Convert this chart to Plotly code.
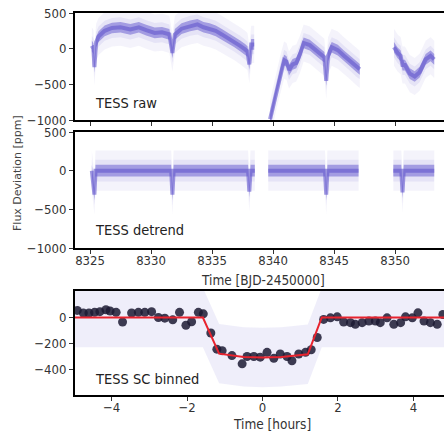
import plotly.graph_objects as go

# --- data ---
# TESS raw light curve (trend of the dense point cloud, ppm); None = data gap
raw_time = [8325.15, 8325.28, 8325.36, 8325.5, 8325.7, 8326.2, 8326.8, 8327.5, 8328.3, 8329.0,
            8329.6, 8330.3, 8330.9, 8331.5, 8331.75, 8331.95, 8332.5, 8333.2, 8333.8, 8334.3,
            8334.8, 8335.3, 8335.8, 8336.3, 8336.8, 8337.3, 8337.7, 8337.9, 8338.05, 8338.2, 8338.45,
            None,
            8339.75, 8340.0, 8340.3, 8340.6, 8340.9, 8341.1, 8341.3, 8341.6, 8341.9, 8342.2,
            8342.5, 8343.0, 8343.5, 8343.9, 8344.2, 8344.35, 8344.5, 8344.8, 8345.3, 8345.8,
            8346.3, 8346.8, 8347.1,
            None,
            8349.9, 8350.2, 8350.45, 8350.6, 8350.8, 8351.2, 8351.6, 8352.0, 8352.2, 8352.5,
            8352.9, 8353.2]
raw_flux = [40, 0, -260, 90, 170, 250, 290, 300, 270, 300,
            260, 220, 230, 200, -60, 200, 280, 320, 340, 300,
            280, 250, 200, 150, 100, 40, -10, -40, -220, 60, 60,
            None,
            -990, -800, -560, -350, -160, -180, -300, -220, -200, -80,
            80, 50, -20, -80, -120, -450, -100, 20, -20, -100,
            -170, -250, -290,
            None,
            20, -60, -100, -230, -230, -350, -390, -330, -260, -150,
            -100, -150]

# TESS detrended light curve
dt_time = [8325.15, 8325.28, 8325.36, 8325.45, 8331.65, 8331.75, 8331.85, 8337.95, 8338.05,
           8338.15, 8338.5, None, 8339.6, 8344.25, 8344.35, 8344.45, 8347.0, None,
           8349.85, 8350.5, 8350.6, 8350.7, 8353.2]
dt_flux = [0, -150, -310, 0, 0, -310, 0, 0, -270,
           0, 0, None, 0, 0, -310, 0, 0, None,
           0, 0, -280, 0, 0]

# phase-folded short cadence, binned points
bin_hours = [-4.91, -4.75, -4.60, -4.45, -4.31, -4.15, -4.04, -3.88, -3.71, -3.47,
             -3.29, -3.12, -2.94, -2.76, -2.59, -2.38, -2.20, -2.03, -1.88, -1.70,
             -1.57, -1.37, -1.21, -1.07, -0.81, -0.54, -0.41, -0.23, -0.06, 0.12,
             0.30, 0.47, 0.65, 0.78, 0.96, 1.14, 1.29, 1.45, 1.62, 1.80,
             1.98, 2.15, 2.33, 2.46, 2.64, 2.82, 2.99, 3.12, 3.30, 3.48,
             3.66, 3.79, 3.97, 4.12, 4.28, 4.45, 4.63, 4.78]
bin_flux = [55, 35, 35, 40, 45, 60, 50, 40, -35, 35,
            40, 40, 45, 0, -5, -18, 40, -60, -33, 40,
            28, -120, -245, -257, -295, -359, -302, -302, -307, -270,
            -316, -283, -302, -335, -283, -270, -250, -155, -15, -3,
            5, -35, -40, -53, -40, -28, -28, -40, -3, -53,
            -40, 5, -3, 36, -28, -40, -53, 23]

# transit model
model_hours = [-5.0, -1.58, -1.15, -0.5, 0.0, 0.5, 1.2, 1.57, 5.0]
model_flux = [0, 0, -280, -305, -310, -305, -285, 0, 0]

x_ticks_top = [8325, 8330, 8335, 8340, 8345, 8350]
x_ticks_bot = [-4, -2, 0, 2, 4]

PTS = 'rgba(98,86,205,{})'
NARROW = 'DejaVu Sans Condensed, Roboto, sans-serif'

W, H = 444, 437


def px(x):
    return x / W


def py(y):
    return 1 - y / H


fig = go.Figure()


def segments(x, y):
    seg_x, seg_y = [], []
    for a, b in zip(x, y):
        if a is None:
            if seg_x:
                yield seg_x, seg_y
            seg_x, seg_y = [], []
        else:
            seg_x.append(a)
            seg_y.append(b)
    if seg_x:
        yield seg_x, seg_y


def add_band(x, y, xa, ya, spread, alpha):
    # shaded band of +-spread ppm around the trend, one polygon per segment
    for sx, sy in segments(x, y):
        bx = sx + sx[::-1] + [sx[0]]
        by = [v + spread for v in sy] + [v - spread for v in sy[::-1]] + [sy[0] + spread]
        fig.add_trace(go.Scatter(x=bx, y=by, xaxis=xa, yaxis=ya, mode='lines', fill='toself',
                                 fillcolor=PTS.format(alpha), line_width=0, hoverinfo='skip'))


def add_cloud(x, y, xa, ya):
    add_band(x, y, xa, ya, 260, 0.07)
    add_band(x, y, xa, ya, 140, 0.10)
    add_band(x, y, xa, ya, 75, 0.50)
    fig.add_trace(go.Scatter(x=x, y=y, xaxis=xa, yaxis=ya, mode='lines',
                             line=dict(color=PTS.format(0.6), width=4), hoverinfo='skip'))


add_cloud(raw_time, raw_flux, 'x', 'y')
add_cloud(dt_time, dt_flux, 'x2', 'y2')

# bottom panel: faint unbinned points, model, binned points
add_band(model_hours, model_flux, 'x3', 'y3', 230, 0.10)
fig.add_trace(go.Scatter(x=bin_hours, y=bin_flux, xaxis='x3', yaxis='y3', mode='markers',
                         marker=dict(color='rgba(28,26,50,0.85)', size=9, line_width=0)))
fig.add_trace(go.Scatter(x=model_hours, y=model_flux, xaxis='x3', yaxis='y3', mode='lines',
                         line=dict(color='#e8232e', width=2)))

axis_common = dict(showline=True, linecolor='black', linewidth=2, mirror=True,
                   ticks='outside', ticklen=4, tickcolor='#333', showgrid=False, zeroline=False,
                   tickfont=dict(family=NARROW, size=13, color='#333'), automargin=False,
                   ticklabeloverflow='allow')
xaxis_common = dict(axis_common, ticklabelstandoff=-5)
yaxis_common = dict(axis_common, mirror=False)

left = px(75)

fig.update_layout(
    width=W, height=H, showlegend=False,
    plot_bgcolor='white', paper_bgcolor='white',
    margin=dict(l=0, r=0, t=0, b=0),
    xaxis=dict(xaxis_common, domain=[left, 1], range=[8323.77, 8354.0], anchor='y',
               tickvals=x_ticks_top, showticklabels=False),
    yaxis=dict(yaxis_common, domain=[py(120), py(13)], range=[-1000, 500], anchor='x',
               tickvals=[-1000, -500, 0, 500]),
    xaxis2=dict(xaxis_common, domain=[left, 1], range=[8323.77, 8354.0], anchor='y2',
                tickvals=x_ticks_top),
    yaxis2=dict(yaxis_common, domain=[py(248), py(132)], range=[-1000, 500], anchor='x2',
                tickvals=[-1000, -500, 0, 500]),
    xaxis3=dict(xaxis_common, domain=[left, 1], range=[-4.97, 4.81], anchor='y3',
                tickvals=x_ticks_bot),
    yaxis3=dict(yaxis_common, domain=[py(395), py(291)], range=[-600, 205], anchor='x3',
                tickvals=[-400, -200, 0]),
)

labels = [('TESS raw', 103), ('TESS detrend', 230), ('TESS SC binned', 379)]
for txt, ypx in labels:
    fig.add_annotation(text=txt, x=px(93), y=py(ypx), xref='paper', yref='paper',
                       xanchor='left', yanchor='middle', showarrow=False,
                       font=dict(family=NARROW, size=14.5, color='#222'))

fig.add_annotation(text='Time [BJD-2450000]', x=px(263), y=py(280), xref='paper', yref='paper',
                   xanchor='center', yanchor='middle', showarrow=False,
                   font=dict(family=NARROW, size=13.5, color='#333'))
fig.add_annotation(text='Time [hours]', x=px(272), y=py(424), xref='paper', yref='paper',
                   xanchor='center', yanchor='middle', showarrow=False,
                   font=dict(family=NARROW, size=13.5, color='#333'))
fig.add_annotation(text='Flux Deviation [ppm]', x=px(18), y=py(173), xref='paper', yref='paper',
                   xanchor='center', yanchor='middle', textangle=-90, showarrow=False,
                   font=dict(family='DejaVu Sans', size=11, color='#444'))

# drop the page's default 8px body margin so the figure fills the window
fig.write_html("out.html", config={'displayModeBar': False},
               post_script="document.body.style.margin='0';document.body.style.overflow='hidden';")
